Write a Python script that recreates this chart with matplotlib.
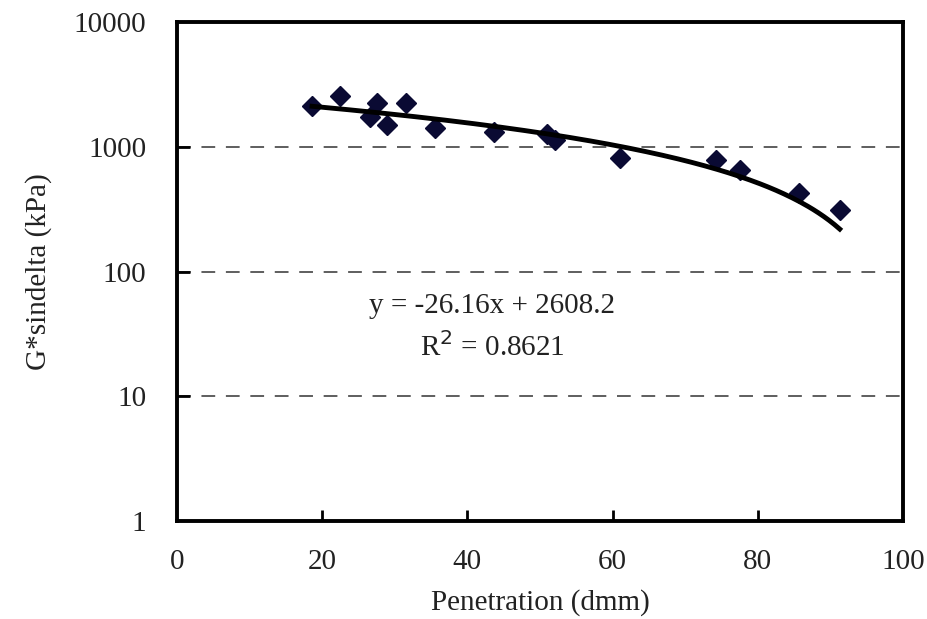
import numpy as np
import matplotlib
matplotlib.use("Agg")
import matplotlib.pyplot as plt

#Data
penetration = [18.6, 22.5, 26.6, 27.6, 28.9, 31.5, 35.5, 43.7, 50.9, 52.1, 61.0, 74.2, 77.5, 85.7, 91.3]
g_sindelta = [2150, 2550, 1740, 2270, 1510, 2250, 1410, 1320, 1280, 1130, 810, 790, 660, 430, 315]

#Linear trend as printed on the chart
slope = -26.16
intercept = 2608.2
r_squared = 0.8621

x_ticks = [0, 20, 40, 60, 80, 100]
y_ticks = [1, 10, 100, 1000, 10000]

#========================================================================================================
# Plot
#========================================================================================================

plt.rcParams['font.family'] = ['Liberation Serif', 'DejaVu Serif']
text_color = '#222222'
fsize = 21

fig = plt.figure(figsize=(9.27,6.19),dpi=100)
ax = fig.add_axes([0.191,0.158,0.783,0.806])

#Gridlines at decades
for yv in y_ticks[1:-1]:
    ax.axhline(yv,color='#333333',linestyle=(0,(9,7)),linewidth=1.1,zorder=1)

#Data points
ax.plot(penetration,g_sindelta,'D',color='#0a0a33',markersize=10.5,zorder=3)

#Trend line
xfit = np.linspace(min(penetration),max(penetration),200)
ax.plot(xfit,slope*xfit+intercept,'-',color='k',linewidth=3.5,zorder=4)

ax.set_yscale('log')
ax.set_xlim(0,100)
ax.set_ylim(1,10000)
ax.set_xticks(x_ticks)
ax.set_xticklabels([str(v) for v in x_ticks])
ax.set_yticks(y_ticks)
ax.set_yticklabels([str(v) for v in y_ticks])
ax.yaxis.set_minor_locator(matplotlib.ticker.NullLocator())

ax.tick_params(axis='both',direction='in',width=2,labelsize=fsize,labelcolor=text_color)
ax.tick_params(axis='y',length=9,pad=22)
ax.tick_params(axis='x',length=8,pad=20)
#hide the ticks that sit on the spines
for t in [ax.xaxis.get_major_ticks()[0],ax.xaxis.get_major_ticks()[-1],
          ax.yaxis.get_major_ticks()[0],ax.yaxis.get_major_ticks()[-1]]:
    t.tick1line.set_visible(False)

for s in ax.spines.values():
    s.set_linewidth(2.8)
    s.set_color('k')

ax.set_xlabel("Penetration (dmm)",fontsize=fsize,color=text_color,labelpad=10)
ax.set_ylabel("G*sindelta (kPa)",fontsize=fsize,color=text_color,labelpad=16)

#Equation annotation
ax.text(43.4,53,f"y = {slope}x + {intercept}",ha='center',va='center',fontsize=fsize,color=text_color)
ax.text(43.4,25,f"R$^2$ = {r_squared}",ha='center',va='center',fontsize=fsize,color=text_color)

plt.savefig("out.png",dpi=100)
plt.close()
